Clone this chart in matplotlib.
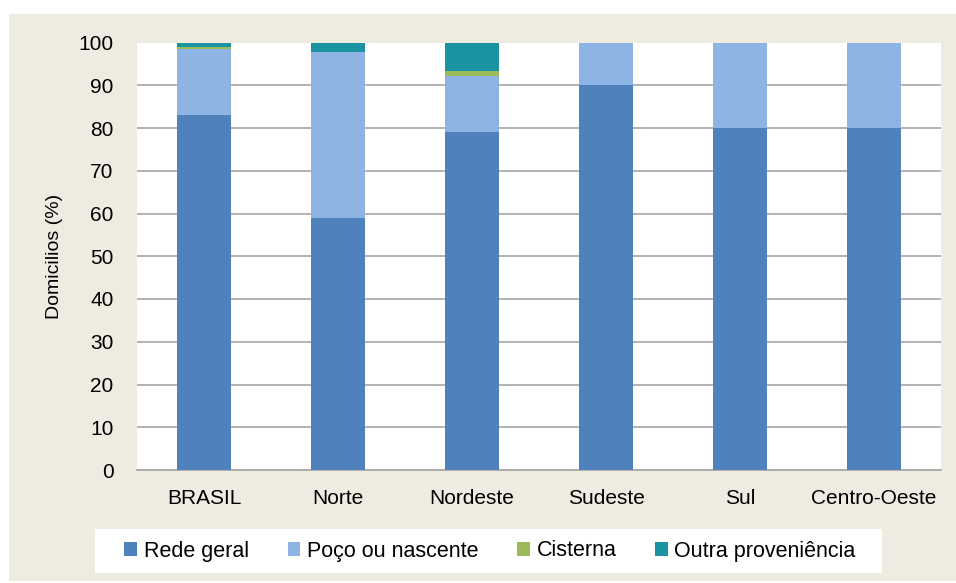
import matplotlib
matplotlib.use("Agg")
import matplotlib.pyplot as plt
from matplotlib.patches import Rectangle
import numpy as np

categories = ["BRASIL", "Norte", "Nordeste", "Sudeste", "Sul", "Centro-Oeste"]
series_names = ["Rede geral", "Poço ou nascente", "Cisterna", "Outra proveniência"]
rede_geral = [83.1, 59.0, 79.0, 90.0, 80.0, 80.0]
poco = [15.4, 38.8, 13.1, 10.0, 20.0, 20.0]
cisterna = [0.5, 0.0, 1.2, 0.0, 0.0, 0.0]
outra = [1.0, 2.2, 6.7, 0.0, 0.0, 0.0]
yticks = [0, 10, 20, 30, 40, 50, 60, 70, 80, 90, 100]

colors = ["#4F81BD", "#8EB4E3", "#9BBB59", "#1B93A0"]

plt.rcParams['font.family'] = ['Liberation Sans Narrow', 'Liberation Sans', 'DejaVu Sans']

fig = plt.figure(figsize=(9.56, 5.83), dpi=100)
fig.patch.set_facecolor("white")
bg = Rectangle((9/956, 0.003), 1 - 9/956, 1 - 14/583 - 0.003, transform=fig.transFigure,
               facecolor="#EEEBE0", edgecolor="none", zorder=-10)
fig.patches.append(bg)
legbox = Rectangle((95/956, 1 - 573/583), (882 - 95)/956, 44/583, transform=fig.transFigure,
                   facecolor="white", edgecolor="none", zorder=-5)
fig.patches.append(legbox)

ax = fig.add_axes([137/956, 1 - 470/583, (941 - 137)/956, (470 - 42.5)/583])
ax.set_facecolor("white")

x = np.arange(len(categories))
bottom = np.zeros(len(categories))
for name, vals, c in zip(series_names, [rede_geral, poco, cisterna, outra], colors):
    ax.bar(x, vals, width=0.4, bottom=bottom, color=c, label=name, zorder=3,
           edgecolor="none")
    bottom += np.array(vals)

ax.set_xlim(-0.5, len(categories) - 0.5)
ax.set_ylim(0, 100)
ax.set_yticks(yticks)
ax.set_yticklabels([str(v) for v in yticks], fontsize=15)
ax.set_xticks(x)
ax.set_xticklabels(categories, fontsize=15)
ax.tick_params(axis="x", length=0, pad=14)
ax.tick_params(axis="y", length=0, pad=17)
ax.grid(axis="y", color="#A6A6A6", linewidth=1.2, zorder=0)
for s in ["left", "right", "top"]:
    ax.spines[s].set_visible(False)
ax.spines["bottom"].set_color("#A6A6A6")
ax.spines["bottom"].set_linewidth(1.2)
ax.set_ylabel("Domicilios (%)", fontsize=14, labelpad=11)

handles, labels = ax.get_legend_handles_labels()
leg = fig.legend(handles, labels, loc="center", ncol=4,
                 bbox_to_anchor=(490/956, 1 - 551/583), fontsize=15.5,
                 frameon=False, handlelength=0.6, handleheight=0.6,
                 handletextpad=0.3, columnspacing=1.8)

fig.savefig("out.png", dpi=100, facecolor=fig.get_facecolor())
